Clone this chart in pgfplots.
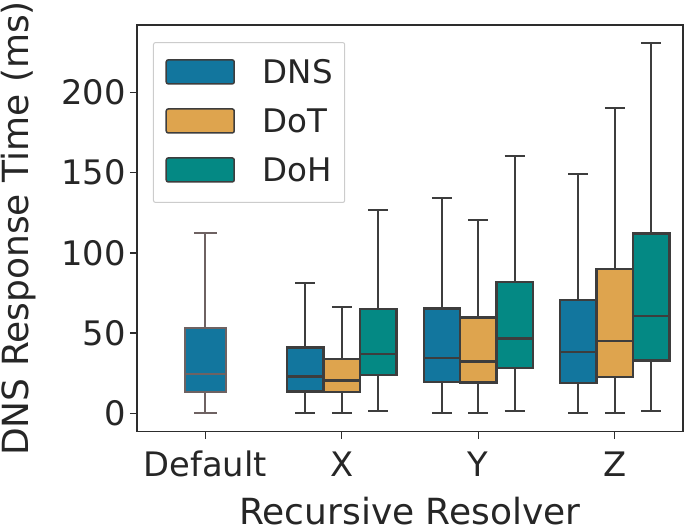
\documentclass[border=0pt]{standalone}
\usepackage{pgfplots}
\pgfplotsset{compat=1.18}
\usepackage{fontspec}
\setmainfont{DejaVu Sans}
\definecolor{dnsc}{RGB}{18,118,158}
\definecolor{dotc}{RGB}{222,164,78}
\definecolor{dohc}{RGB}{4,137,132}
\definecolor{edgec}{RGB}{61,61,61}
\definecolor{edged}{RGB}{110,98,98}
\definecolor{axc}{RGB}{45,45,45}
\definecolor{txtc}{RGB}{38,38,38}
\definecolor{legc}{RGB}{204,204,204}
\begin{document}
\begin{tikzpicture}
\begin{axis}[
  at={(0,0)}, anchor=south west,
  scale only axis, width=546bp, height=406.7bp,
  xmin=-0.5, xmax=3.5, ymin=-11.5, ymax=242,
  xtick={0,1,2,3}, xticklabels={Default,X,Y,Z},
  ytick={0,50,100,150,200},
  tick align=outside, xtick pos=lower, ytick pos=left,
  major tick length=7bp,
  tick style={line width=1.4bp, color=axc},
  axis line style={line width=1.5bp, color=axc},
  unbounded coords=jump,
  /pgf/number format/assume math mode=true,
  ticklabel style={font=\fontsize{33.75bp}{40bp}\selectfont, text=txtc},
  yticklabel style={anchor=east, inner sep=0pt, xshift=-4bp},
  xticklabel style={anchor=base, inner sep=0pt, yshift=-38bp},
  every axis y label/.style={at={(axis description cs:-0.1978,0.5)}, rotate=90, anchor=base, inner sep=0pt, font=\fontsize{36bp}{42bp}\selectfont, text=txtc},
  every axis x label/.style={at={(axis description cs:0.5,-0.2282)}, anchor=base, inner sep=0pt, font=\fontsize{36bp}{42bp}\selectfont, text=txtc},
  ylabel={DNS Response Time (ms)},
  xlabel={Recursive Resolver},
  legend style={at={(axis description cs:0.0293,0.958)}, anchor=north west,
    draw=legc, line width=1bp, rounded corners=2bp, fill=white,
    inner xsep=12bp, inner ysep=16.5bp, row sep=23.5bp,
    nodes={inner sep=0pt, text=txtc},
    font=\fontsize{32.5bp}{39bp}\selectfont},
  legend cell align=left,
]
% ---------- Default (DNS): lw 0, q1 13.5, med 24.7, q3 53.3, uw 112.1
\addplot[forget plot, draw=edged, line width=2bp] coordinates {(0,53.3) (0,112.1) (nan,nan) (-0.084,112.1) (0.084,112.1) (nan,nan) (0,13.5) (0,0) (nan,nan) (-0.084,0) (0.084,0)};
\addplot[forget plot, draw=edged, fill=dnsc, line width=2bp] coordinates {(-0.152,13.5) (0.152,13.5) (0.152,53.3) (-0.152,53.3)} -- cycle;
\addplot[forget plot, draw=edged, line width=2bp] coordinates {(-0.152,24.7) (0.152,24.7)};
% ---------- X DNS: 0, 13.5, 23.0, 40.9, 81.0
\addplot[forget plot, draw=edgec, line width=2bp] coordinates {(0.733,40.9) (0.733,81.0) (nan,nan) (0.660,81.0) (0.806,81.0) (nan,nan) (0.733,13.5) (0.733,0) (nan,nan) (0.660,0) (0.806,0)};
\addplot[forget plot, draw=edgec, fill=dnsc, line width=2.3bp] coordinates {(0.600,13.5) (0.866,13.5) (0.866,40.9) (0.600,40.9)} -- cycle;
\addplot[forget plot, draw=edgec, line width=2.3bp] coordinates {(0.600,23.0) (0.866,23.0)};
% ---------- X DoT: 0, 13.1, 20.5, 33.8, 66.0
\addplot[forget plot, draw=edgec, line width=2bp] coordinates {(1.0,33.8) (1.0,66.0) (nan,nan) (0.927,66.0) (1.073,66.0) (nan,nan) (1.0,13.1) (1.0,0) (nan,nan) (0.927,0) (1.073,0)};
\addplot[forget plot, draw=edgec, fill=dotc, line width=2.3bp] coordinates {(0.867,13.1) (1.133,13.1) (1.133,33.8) (0.867,33.8)} -- cycle;
\addplot[forget plot, draw=edgec, line width=2.3bp] coordinates {(0.867,20.5) (1.133,20.5)};
% ---------- X DoH: 1.6, 23.9, 37.1, 64.8, 126.7
\addplot[forget plot, draw=edgec, line width=2bp] coordinates {(1.267,64.8) (1.267,126.7) (nan,nan) (1.194,126.7) (1.340,126.7) (nan,nan) (1.267,23.9) (1.267,1.6) (nan,nan) (1.194,1.6) (1.340,1.6)};
\addplot[forget plot, draw=edgec, fill=dohc, line width=2.3bp] coordinates {(1.134,23.9) (1.400,23.9) (1.400,64.8) (1.134,64.8)} -- cycle;
\addplot[forget plot, draw=edgec, line width=2.3bp] coordinates {(1.134,37.1) (1.400,37.1)};
% ---------- Y DNS: 0, 19.5, 34.5, 65.2, 133.9
\addplot[forget plot, draw=edgec, line width=2bp] coordinates {(1.733,65.2) (1.733,133.9) (nan,nan) (1.660,133.9) (1.806,133.9) (nan,nan) (1.733,19.5) (1.733,0) (nan,nan) (1.660,0) (1.806,0)};
\addplot[forget plot, draw=edgec, fill=dnsc, line width=2.3bp] coordinates {(1.600,19.5) (1.866,19.5) (1.866,65.2) (1.600,65.2)} -- cycle;
\addplot[forget plot, draw=edgec, line width=2.3bp] coordinates {(1.600,34.5) (1.866,34.5)};
% ---------- Y DoT: 0, 19.1, 32.2, 59.6, 120.2
\addplot[forget plot, draw=edgec, line width=2bp] coordinates {(2.0,59.6) (2.0,120.2) (nan,nan) (1.927,120.2) (2.073,120.2) (nan,nan) (2.0,19.1) (2.0,0) (nan,nan) (1.927,0) (2.073,0)};
\addplot[forget plot, draw=edgec, fill=dotc, line width=2.3bp] coordinates {(1.867,19.1) (2.133,19.1) (2.133,59.6) (1.867,59.6)} -- cycle;
\addplot[forget plot, draw=edgec, line width=2.3bp] coordinates {(1.867,32.2) (2.133,32.2)};
% ---------- Y DoH: 1.6, 28.4, 46.5, 81.6, 160.3
\addplot[forget plot, draw=edgec, line width=2bp] coordinates {(2.267,81.6) (2.267,160.3) (nan,nan) (2.194,160.3) (2.340,160.3) (nan,nan) (2.267,28.4) (2.267,1.6) (nan,nan) (2.194,1.6) (2.340,1.6)};
\addplot[forget plot, draw=edgec, fill=dohc, line width=2.3bp] coordinates {(2.134,28.4) (2.400,28.4) (2.400,81.6) (2.134,81.6)} -- cycle;
\addplot[forget plot, draw=edgec, line width=2.3bp] coordinates {(2.134,46.5) (2.400,46.5)};
% ---------- Z DNS: 0, 18.7, 38.2, 70.8, 149.1
\addplot[forget plot, draw=edgec, line width=2bp] coordinates {(2.733,70.8) (2.733,149.1) (nan,nan) (2.660,149.1) (2.806,149.1) (nan,nan) (2.733,18.7) (2.733,0) (nan,nan) (2.660,0) (2.806,0)};
\addplot[forget plot, draw=edgec, fill=dnsc, line width=2.3bp] coordinates {(2.600,18.7) (2.866,18.7) (2.866,70.8) (2.600,70.8)} -- cycle;
\addplot[forget plot, draw=edgec, line width=2.3bp] coordinates {(2.600,38.2) (2.866,38.2)};
% ---------- Z DoT: 0, 22.8, 45.2, 89.7, 190.0
\addplot[forget plot, draw=edgec, line width=2bp] coordinates {(3.0,89.7) (3.0,190.0) (nan,nan) (2.927,190.0) (3.073,190.0) (nan,nan) (3.0,22.8) (3.0,0) (nan,nan) (2.927,0) (3.073,0)};
\addplot[forget plot, draw=edgec, fill=dotc, line width=2.3bp] coordinates {(2.867,22.8) (3.133,22.8) (3.133,89.7) (2.867,89.7)} -- cycle;
\addplot[forget plot, draw=edgec, line width=2.3bp] coordinates {(2.867,45.2) (3.133,45.2)};
% ---------- Z DoH: 1.6, 32.8, 60.6, 112.1, 230.5
\addplot[forget plot, draw=edgec, line width=2bp] coordinates {(3.267,112.1) (3.267,230.5) (nan,nan) (3.194,230.5) (3.340,230.5) (nan,nan) (3.267,32.8) (3.267,1.6) (nan,nan) (3.194,1.6) (3.340,1.6)};
\addplot[forget plot, draw=edgec, fill=dohc, line width=2.3bp] coordinates {(3.134,32.8) (3.400,32.8) (3.400,112.1) (3.134,112.1)} -- cycle;
\addplot[forget plot, draw=edgec, line width=2.3bp] coordinates {(3.134,60.6) (3.400,60.6)};
% ---------- legend
\addlegendimage{legend image code/.code={\draw[fill=dnsc,draw=edgec,line width=1.5bp] (0bp,-12bp) rectangle (68bp,12bp); \path (96bp,0bp);}}
\addlegendentry{DNS}
\addlegendimage{legend image code/.code={\draw[fill=dotc,draw=edgec,line width=1.5bp] (0bp,-12bp) rectangle (68bp,12bp); \path (96bp,0bp);}}
\addlegendentry{DoT}
\addlegendimage{legend image code/.code={\draw[fill=dohc,draw=edgec,line width=1.5bp] (0bp,-12bp) rectangle (68bp,12bp); \path (96bp,0bp) (0bp,-15.5bp);}}
\addlegendentry{DoH}
\end{axis}
\pgfresetboundingbox
\path[use as bounding box] (-137bp,-99.3bp) rectangle (548bp,431.7bp);
\end{tikzpicture}
\end{document}
